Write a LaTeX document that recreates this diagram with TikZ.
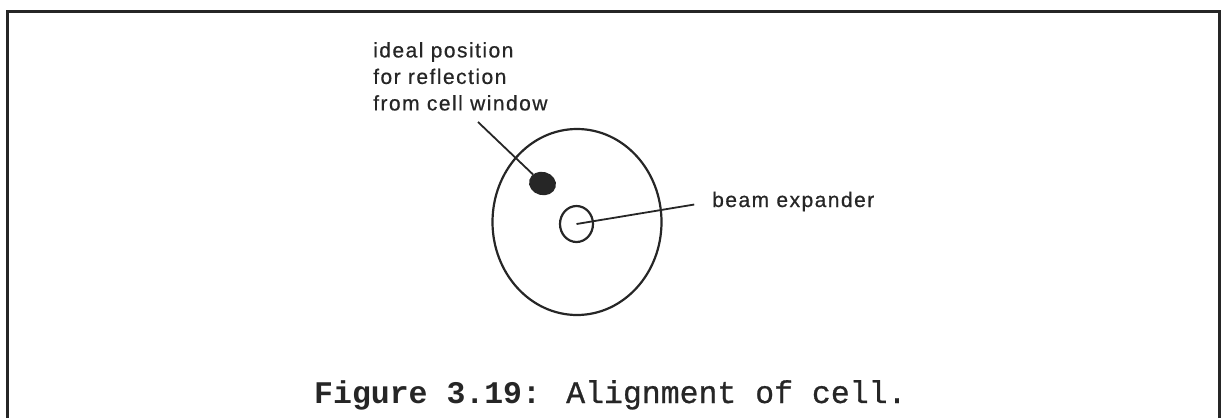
\documentclass[tikz,border=0pt]{standalone}
\usepackage{fontspec}
\usepackage{tikz}
\usetikzlibrary{shapes.geometric}
\newfontfamily\labelfont{Liberation Sans}[LetterSpace=7, FakeBold=0.6]
\newfontfamily\capfont{Liberation Mono}[FakeBold=0.8, BoldFeatures={FakeBold=0}]
\begin{document}
\begin{tikzpicture}[
  x=1pt, y=-1pt,
  ink/.style={draw=black!85, line width=2.2pt},
  lens/.style={ink, ellipse, inner sep=0pt},
  lead/.style={draw=black!85, line width=1.8pt},
  note/.style={font=\labelfont\fontsize{21}{26.5}\selectfont, text=black!85,
    inner sep=0pt, align=left}
]
\useasboundingbox (0,0) rectangle (1224,418);
% frame, open at the bottom
\draw[draw=black!85, line width=3pt] (7,418) -- (7,11) -- (1219,11) -- (1219,418);

\node[lens, minimum width=169pt, minimum height=186pt] (cell) at (577,222) {};
\node[lens, minimum width=33pt, minimum height=36pt] (expander) at (576.5,224) {};
\node[lens, fill=black!85, minimum width=25pt, minimum height=21pt, rotate=-15] (spot) at (542.5,183.5) {};

\node[note, anchor=north west] (ideal) at (373,42)
  {ideal position\\for reflection\\from cell window};
\node[note, anchor=base west] (beam) at (712,207) {beam expander};

\coordinate (idealfoot) at (478,122);
\draw[lead] (idealfoot) -- (spot);
\draw[lead, shorten >=18pt] (expander.center) -- (beam.west);

\node[anchor=base west, inner sep=0pt, text=black!85,
  font=\capfont\fontsize{31.5}{36}\selectfont] (caption) at (314,403)
  {\textbf{Figure 3.19:} Alignment of cell.};
\end{tikzpicture}
\end{document}
